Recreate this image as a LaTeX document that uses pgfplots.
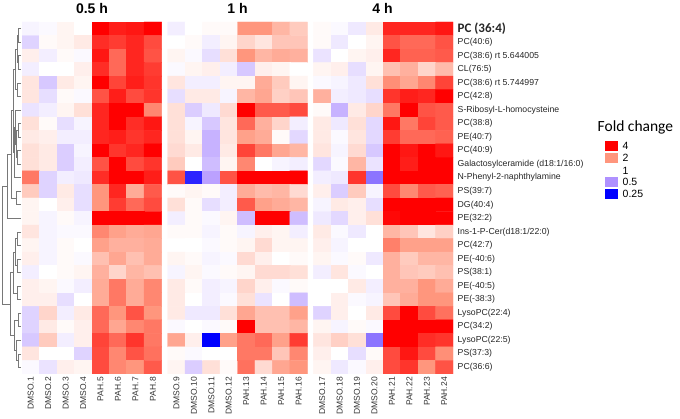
\documentclass[border=0pt]{standalone}
\usepackage{fontspec}
\setmainfont{Liberation Sans}
\newfontfamily\calibri{Carlito}
\usepackage{pgfplots}
\pgfplotsset{compat=1.18}
\definecolor{fcred}{RGB}{255,0,0}
\definecolor{fcsalmon}{RGB}{255,150,125}
\definecolor{fclilac}{RGB}{175,145,255}
\definecolor{fcblue}{RGB}{0,0,255}
\definecolor{dendro}{RGB}{120,120,120}
\begin{document}
\begin{tikzpicture}[x=1pt,y=1pt]
\path[use as bounding box] (0,0) rectangle (680,419);
\begin{axis}[
  at={(22pt,45pt)}, anchor=south west, scale only axis,
  width=431pt, height=352pt,
  xmin=-0.5, xmax=24.2, ymin=-0.5, ymax=25.5, y dir=reverse,
  axis line style={draw=none}, major tick length=0pt, tick style={draw=none},
  colormap={fc}{rgb255=(0,0,255) rgb255=(175,145,255) rgb255=(255,255,255) rgb255=(255,150,125) rgb255=(255,0,0)},
  point meta min=-2, point meta max=2,
  xtick={0,1,2,3,4,5,6,7,8.35,9.35,10.35,11.35,12.35,13.35,14.35,15.35,16.7,17.7,18.7,19.7,20.7,21.7,22.7,23.7},
  xticklabels={DMSO.1,DMSO.2,DMSO.3,DMSO.4,PAH.5,PAH.6,PAH.7,PAH.8,DMSO.9,DMSO.10,DMSO.11,DMSO.12,PAH.13,PAH.14,PAH.15,PAH.16,DMSO.17,DMSO.18,DMSO.19,DMSO.20,PAH.21,PAH.22,PAH.23,PAH.24},
  xticklabel style={rotate=90, anchor=east, inner sep=0pt, font=\fontsize{8.5}{10}\selectfont, text=black!80},
  xticklabel shift=3pt,
  ytick={0,...,25},
  yticklabels={{\calibri\bfseries\fontsize{13}{14}\selectfont PC (36:4)},PC(40:6),PC(38:6) rt 5.644005,CL(76:5),PC(38:6) rt 5.744997,PC(42:8),S-Ribosyl-L-homocysteine,PC(38:8),PE(40:7),PC(40:9),Galactosylceramide (d18:1/16:0),N-Phenyl-2-naphthylamine,PS(39:7),DG(40:4),PE(32:2),Ins-1-P-Cer(d18:1/22:0),PC(42:7),PE(-40:6),PS(38:1),PE(-40:5),PE(-38:3),LysoPC(22:4),PC(34:2),LysoPC(22:5),PS(37:3),PC(36:6)},
  yticklabel pos=right,
  yticklabel style={anchor=west, inner sep=0pt, font=\fontsize{8.7}{10}\selectfont, text=black!85},
  yticklabel shift=4.5pt,
]
% 0.5 h
\addplot[matrix plot*, mesh/cols=8, point meta=explicit] table[row sep=\\, x=x, y=y, meta=c] {
x y c\\
0 0 -0.1\\ 1 0 -0.05\\ 2 0 0.1\\ 3 0 0\\ 4 0 2\\ 5 0 1.8\\ 6 0 1.85\\ 7 0 2\\
0 1 -0.4\\ 1 1 0.05\\ 2 1 0.1\\ 3 1 0.2\\ 4 1 1.7\\ 5 1 1.6\\ 6 1 1.75\\ 7 1 1.5\\
0 2 0.15\\ 1 2 -0.15\\ 2 2 0.05\\ 3 2 -0.05\\ 4 2 1.85\\ 5 2 1.3\\ 6 2 1.75\\ 7 2 1.45\\
0 3 -0.15\\ 1 3 0\\ 2 3 0\\ 3 3 0.15\\ 4 3 1.7\\ 5 3 1.3\\ 6 3 1.75\\ 7 3 1.6\\
0 4 0.25\\ 1 4 -0.5\\ 2 4 0.2\\ 3 4 0.1\\ 4 4 2\\ 5 4 1.55\\ 6 4 1.8\\ 7 4 1.65\\
0 5 0.25\\ 1 5 -0.3\\ 2 5 0.05\\ 3 5 -0.05\\ 4 5 1.45\\ 5 5 1.8\\ 6 5 1.5\\ 7 5 1.65\\
0 6 -0.25\\ 1 6 -0.15\\ 2 6 0.1\\ 3 6 0.3\\ 4 6 1.75\\ 5 6 2\\ 6 6 2\\ 7 6 1.1\\
0 7 0.3\\ 1 7 0.05\\ 2 7 -0.3\\ 3 7 -0.1\\ 4 7 1.75\\ 5 7 2\\ 6 7 1.7\\ 7 7 1.85\\
0 8 0.2\\ 1 8 0.15\\ 2 8 -0.15\\ 3 8 -0.15\\ 4 8 1.75\\ 5 8 1.8\\ 6 8 1.65\\ 7 8 1.75\\
0 9 0.3\\ 1 9 0.2\\ 2 9 -0.45\\ 3 9 -0.1\\ 4 9 2\\ 5 9 1.65\\ 6 9 1.75\\ 7 9 2\\
0 10 0.3\\ 1 10 0.2\\ 2 10 -0.45\\ 3 10 -0.15\\ 4 10 1.45\\ 5 10 2\\ 6 10 1.5\\ 7 10 1.65\\
0 11 1.2\\ 1 11 -0.4\\ 2 11 -0.15\\ 3 11 -0.2\\ 4 11 1.7\\ 5 11 2\\ 6 11 2\\ 7 11 1.8\\
0 12 0.5\\ 1 12 -0.4\\ 2 12 0.2\\ 3 12 -0.3\\ 4 12 1.0\\ 5 12 1.75\\ 6 12 0.8\\ 7 12 1.4\\
0 13 0.1\\ 1 13 0\\ 2 13 0.15\\ 3 13 -0.3\\ 4 13 1.0\\ 5 13 1.6\\ 6 13 1.3\\ 7 13 1.5\\
0 14 0.1\\ 1 14 -0.1\\ 2 14 0.05\\ 3 14 -0.1\\ 4 14 2\\ 5 14 2\\ 6 14 2\\ 7 14 2\\
0 15 0.25\\ 1 15 -0.1\\ 2 15 -0.05\\ 3 15 -0.05\\ 4 15 1.1\\ 5 15 0.9\\ 6 15 0.8\\ 7 15 0.85\\
0 16 0.1\\ 1 16 -0.1\\ 2 16 0.05\\ 3 16 0\\ 4 16 0.9\\ 5 16 0.75\\ 6 16 0.75\\ 7 16 0.8\\
0 17 0.15\\ 1 17 -0.1\\ 2 17 0.05\\ 3 17 -0.05\\ 4 17 0.6\\ 5 17 0.85\\ 6 17 0.6\\ 7 17 0.8\\
0 18 -0.15\\ 1 18 0\\ 2 18 0.05\\ 3 18 0.1\\ 4 18 0.75\\ 5 18 0.4\\ 6 18 0.7\\ 7 18 0.6\\
0 19 0.15\\ 1 19 0.1\\ 2 19 -0.05\\ 3 19 -0.15\\ 4 19 0.8\\ 5 19 1.2\\ 6 19 0.8\\ 7 19 1.1\\
0 20 0.15\\ 1 20 0.15\\ 2 20 -0.3\\ 3 20 0\\ 4 20 0.8\\ 5 20 1.2\\ 6 20 0.8\\ 7 20 1.1\\
0 21 -0.4\\ 1 21 0.4\\ 2 21 -0.15\\ 3 21 0.2\\ 4 21 1.3\\ 5 21 1.0\\ 6 21 1.45\\ 7 21 1.0\\
0 22 -0.4\\ 1 22 0.2\\ 2 22 0.05\\ 3 22 0.15\\ 4 22 1.3\\ 5 22 0.85\\ 6 22 1.1\\ 7 22 1.2\\
0 23 -0.5\\ 1 23 0.5\\ 2 23 -0.15\\ 3 23 0.15\\ 4 23 1.55\\ 5 23 1.3\\ 6 23 1.65\\ 7 23 1.2\\
0 24 0.25\\ 1 24 0\\ 2 24 0\\ 3 24 -0.4\\ 4 24 1.5\\ 5 24 1.1\\ 6 24 1.45\\ 7 24 1.25\\
0 25 -0.05\\ 1 25 -0.25\\ 2 25 0.15\\ 3 25 0.1\\ 4 25 1.5\\ 5 25 1.1\\ 6 25 1.0\\ 7 25 1.4\\
};
% 1 h
\addplot[matrix plot*, mesh/cols=8, point meta=explicit] table[row sep=\\, x expr=\thisrow{x}+8.35, y=y, meta=c] {
x y c\\
0 0 -0.15\\ 1 0 0\\ 2 0 0.05\\ 3 0 0.05\\ 4 0 1.0\\ 5 0 1.0\\ 6 0 0.7\\ 7 0 0.5\\
0 1 0\\ 1 1 0.05\\ 2 1 -0.15\\ 3 1 0.1\\ 4 1 0.4\\ 5 1 0.25\\ 6 1 0.55\\ 7 1 0.55\\
0 2 0.1\\ 1 2 -0.05\\ 2 2 -0.3\\ 3 2 0.3\\ 4 2 1.0\\ 5 2 0.7\\ 6 2 0.8\\ 7 2 0.75\\
0 3 -0.05\\ 1 3 0.1\\ 2 3 0.15\\ 3 3 -0.15\\ 4 3 -0.5\\ 5 3 0.15\\ 6 3 0.1\\ 7 3 0\\
0 4 0.25\\ 1 4 -0.15\\ 2 4 -0.15\\ 3 4 0.1\\ 4 4 0.1\\ 5 4 0.8\\ 6 4 0.5\\ 7 4 0.1\\
0 5 -0.3\\ 1 5 0.2\\ 2 5 0.2\\ 3 5 -0.1\\ 4 5 0.7\\ 5 5 0.85\\ 6 5 0.45\\ 7 5 0.55\\
0 6 0.3\\ 1 6 -0.45\\ 2 6 -0.2\\ 3 6 0.35\\ 4 6 2\\ 5 6 1.4\\ 6 6 1.4\\ 7 6 1.5\\
0 7 0.3\\ 1 7 -0.1\\ 2 7 -0.5\\ 3 7 0.25\\ 4 7 1.3\\ 5 7 0.75\\ 6 7 0.4\\ 7 7 -0.15\\
0 8 0.3\\ 1 8 0.1\\ 2 8 -0.7\\ 3 8 0.25\\ 4 8 0.9\\ 5 8 0.8\\ 6 8 0.05\\ 7 8 -0.35\\
0 9 0.35\\ 1 9 0.2\\ 2 9 -0.7\\ 3 9 0.2\\ 4 9 1.55\\ 5 9 1.2\\ 6 9 0.85\\ 7 9 0.7\\
0 10 0.5\\ 1 10 0\\ 2 10 -0.6\\ 3 10 0.1\\ 4 10 1.1\\ 5 10 0\\ 6 10 -0.1\\ 7 10 -0.15\\
0 11 1.45\\ 1 11 -1.75\\ 2 11 -0.85\\ 3 11 1.45\\ 4 11 2\\ 5 11 2\\ 6 11 2\\ 7 11 2\\
0 12 0.05\\ 1 12 0.1\\ 2 12 0.05\\ 3 12 -0.15\\ 4 12 0.8\\ 5 12 0.65\\ 6 12 0.7\\ 7 12 0.35\\
0 13 0.3\\ 1 13 0.05\\ 2 13 -0.3\\ 3 13 -0.15\\ 4 13 1.4\\ 5 13 0.9\\ 6 13 0.8\\ 7 13 0.7\\
0 14 -0.15\\ 1 14 0.05\\ 2 14 -0.05\\ 3 14 0.1\\ 4 14 -0.6\\ 5 14 2\\ 6 14 2\\ 7 14 -0.6\\
0 15 0.05\\ 1 15 0.05\\ 2 15 -0.1\\ 3 15 0.05\\ 4 15 -0.1\\ 5 15 0.15\\ 6 15 0.1\\ 7 15 -0.15\\
0 16 0\\ 1 16 0\\ 2 16 -0.05\\ 3 16 0.05\\ 4 16 0.1\\ 5 16 0.35\\ 6 16 0.1\\ 7 16 0.1\\
0 17 0.1\\ 1 17 0.05\\ 2 17 -0.1\\ 3 17 -0.05\\ 4 17 0.35\\ 5 17 0.15\\ 6 17 0\\ 7 17 0.05\\
0 18 -0.1\\ 1 18 0.1\\ 2 18 -0.05\\ 3 18 0.05\\ 4 18 0.1\\ 5 18 0.35\\ 6 18 0.35\\ 7 18 0.3\\
0 19 0.2\\ 1 19 0.05\\ 2 19 -0.15\\ 3 19 -0.1\\ 4 19 0.4\\ 5 19 0.15\\ 6 19 -0.05\\ 7 19 0.05\\
0 20 0.2\\ 1 20 0\\ 2 20 -0.15\\ 3 20 -0.05\\ 4 20 0.3\\ 5 20 -0.25\\ 6 20 0\\ 7 20 -0.6\\
0 21 0.2\\ 1 21 -0.2\\ 2 21 -0.2\\ 3 21 0.3\\ 4 21 0.85\\ 5 21 0.6\\ 6 21 0.6\\ 7 21 0.9\\
0 22 -0.05\\ 1 22 0\\ 2 22 -0.05\\ 3 22 0.05\\ 4 22 2\\ 5 22 0.6\\ 6 22 0.6\\ 7 22 0.7\\
0 23 0.85\\ 1 23 0.15\\ 2 23 -2\\ 3 23 0.9\\ 4 23 1.2\\ 5 23 1.3\\ 6 23 0.9\\ 7 23 1.6\\
0 24 0.05\\ 1 24 -0.05\\ 2 24 0\\ 3 24 0\\ 4 24 1.2\\ 5 24 1.2\\ 6 24 0.55\\ 7 24 1.1\\
0 25 0.1\\ 1 25 -0.45\\ 2 25 0.3\\ 3 25 0.05\\ 4 25 1.25\\ 5 25 0.35\\ 6 25 0.85\\ 7 25 1.0\\
};
% 4 h
\addplot[matrix plot*, mesh/cols=8, point meta=explicit] table[row sep=\\, x expr=\thisrow{x}+16.7, y=y, meta=c] {
x y c\\
0 0 0.05\\ 1 0 -0.05\\ 2 0 -0.2\\ 3 0 0.2\\ 4 0 1.75\\ 5 0 1.75\\ 6 0 1.75\\ 7 0 1.85\\
0 1 0.05\\ 1 1 -0.2\\ 2 1 0\\ 3 1 0.1\\ 4 1 1.45\\ 5 1 1.3\\ 6 1 1.3\\ 7 1 1.45\\
0 2 -0.25\\ 1 2 0\\ 2 2 0.1\\ 3 2 0.15\\ 4 2 1.75\\ 5 2 1.35\\ 6 2 1.35\\ 7 2 1.4\\
0 3 0.1\\ 1 3 0.15\\ 2 3 -0.3\\ 3 3 0.1\\ 4 3 0.6\\ 5 3 0.75\\ 6 3 0.4\\ 7 3 0.65\\
0 4 -0.05\\ 1 4 -0.1\\ 2 4 -0.2\\ 3 4 0.3\\ 4 4 1.05\\ 5 4 0.85\\ 6 4 1.1\\ 7 4 1.55\\
0 5 0.75\\ 1 5 -0.15\\ 2 5 -0.2\\ 3 5 -0.3\\ 4 5 1.65\\ 5 5 1.8\\ 6 5 1.75\\ 7 5 2\\
0 6 0.05\\ 1 6 -0.7\\ 2 6 0.2\\ 3 6 0.4\\ 4 6 1.2\\ 5 6 2\\ 6 6 1.45\\ 7 6 1.4\\
0 7 0.2\\ 1 7 -0.2\\ 2 7 0.3\\ 3 7 -0.35\\ 4 7 1.85\\ 5 7 1.2\\ 6 7 1.55\\ 7 7 1.4\\
0 8 0.2\\ 1 8 -0.05\\ 2 8 0.25\\ 3 8 -0.35\\ 4 8 1.6\\ 5 8 1.3\\ 6 8 1.3\\ 7 8 1.35\\
0 9 0.25\\ 1 9 -0.1\\ 2 9 0.35\\ 3 9 -0.5\\ 4 9 2\\ 5 9 1.85\\ 6 9 2\\ 7 9 1.85\\
0 10 -0.35\\ 1 10 -0.05\\ 2 10 0.7\\ 3 10 -0.25\\ 4 10 2\\ 5 10 1.8\\ 6 10 2\\ 7 10 2\\
0 11 -0.15\\ 1 11 -0.2\\ 2 11 1.65\\ 3 11 -1.2\\ 4 11 2\\ 5 11 2\\ 6 11 2\\ 7 11 2\\
0 12 0.15\\ 1 12 -0.45\\ 2 12 0.5\\ 3 12 -0.1\\ 4 12 1.5\\ 5 12 1.1\\ 6 12 1.4\\ 7 12 1.35\\
0 13 -0.1\\ 1 13 0.2\\ 2 13 0.15\\ 3 13 -0.3\\ 4 13 2\\ 5 13 2\\ 6 13 2\\ 7 13 2\\
0 14 -0.2\\ 1 14 -0.35\\ 2 14 0.15\\ 3 14 0.3\\ 4 14 1.95\\ 5 14 2\\ 6 14 2\\ 7 14 2\\
0 15 0.2\\ 1 15 -0.05\\ 2 15 -0.2\\ 3 15 0\\ 4 15 0.7\\ 5 15 0.55\\ 6 15 0.25\\ 7 15 0.45\\
0 16 0.15\\ 1 16 -0.1\\ 2 16 0\\ 3 16 0\\ 4 16 1.15\\ 5 16 0.9\\ 6 16 0.9\\ 7 16 0.9\\
0 17 0.1\\ 1 17 -0.05\\ 2 17 0.05\\ 3 17 -0.2\\ 4 17 0.75\\ 5 17 0.5\\ 6 17 0.7\\ 7 17 0.7\\
0 18 -0.15\\ 1 18 0.25\\ 2 18 -0.05\\ 3 18 0\\ 4 18 0.75\\ 5 18 0.55\\ 6 18 0.5\\ 7 18 0.6\\
0 19 0\\ 1 19 0\\ 2 19 0.2\\ 3 19 -0.15\\ 4 19 0.75\\ 5 19 0.75\\ 6 19 1.0\\ 7 19 0.8\\
0 20 0\\ 1 20 0.15\\ 2 20 -0.05\\ 3 20 -0.1\\ 4 20 0.55\\ 5 20 0.8\\ 6 20 1.0\\ 7 20 1.0\\
0 21 -0.4\\ 1 21 0.15\\ 2 21 0\\ 3 21 0.2\\ 4 21 1.5\\ 5 21 2\\ 6 21 1.5\\ 7 21 1.25\\
0 22 0.1\\ 1 22 -0.1\\ 2 22 0.05\\ 3 22 -0.05\\ 4 22 2\\ 5 22 2\\ 6 22 2\\ 7 22 2\\
0 23 0.25\\ 1 23 0.45\\ 2 23 0.3\\ 3 23 -1.2\\ 4 23 2\\ 5 23 2\\ 6 23 1.7\\ 7 23 1.65\\
0 24 0.15\\ 1 24 0\\ 2 24 -0.3\\ 3 24 0.05\\ 4 24 1.5\\ 5 24 1.85\\ 6 24 1.5\\ 7 24 1.05\\
0 25 0.1\\ 1 25 -0.2\\ 2 25 -0.05\\ 3 25 0.15\\ 4 25 1.5\\ 5 25 1.65\\ 6 25 1.0\\ 7 25 1.45\\
};
\end{axis}
\begin{scope}[shift={(0,419)}, yscale=-1]
% panel titles
\node[anchor=base, font=\bfseries\fontsize{14}{16}\selectfont] at (92,13.5) {0.5 h};
\node[anchor=base, font=\bfseries\fontsize{14}{16}\selectfont] at (237.5,13.5) {1 h};
\node[anchor=base, font=\bfseries\fontsize{14}{16}\selectfont] at (382.5,13.5) {4 h};
% dendrogram
\begin{scope}[draw=dendro, line width=0.6pt]
\draw (21,28.8)--(18.5,28.8)--(18.5,42.3)--(21,42.3);
\draw (21,55.8)--(18.5,55.8)--(18.5,69.4)--(21,69.4);
\draw (18.5,35.5)--(17,35.5)--(17,62.6)--(18.5,62.6);
\draw (21,82.9)--(17.5,82.9)--(17.5,96.5)--(21,96.5);
\draw (17,49)--(15.5,49)--(15.5,89.7)--(17.5,89.7);
\draw (21,123.6)--(18,123.6)--(18,137.1)--(21,137.1);
\draw (21,150.7)--(17.5,150.7)--(17.5,164.2)--(21,164.2);
\draw (18,130.3)--(16,130.3)--(16,157.4)--(17.5,157.4);
\draw (21,110)--(15,110)--(15,143.9)--(16,143.9);
\draw (15,127)--(14,127)--(14,177.7)--(21,177.7);
\draw (15.5,69.3)--(13,69.3)--(13,152.3)--(14,152.3);
\draw (21,191.3)--(16,191.3)--(16,204.8)--(21,204.8);
\draw (13,110.8)--(11,110.8)--(11,198)--(16,198);
\draw (11,154.4)--(7,154.4)--(7,218.4)--(21,218.4);
\draw (21,231.9)--(17.5,231.9)--(17.5,245.5)--(21,245.5);
\draw (21,259)--(17,259)--(17,272.6)--(21,272.6);
\draw (17.5,238.7)--(15.5,238.7)--(15.5,265.8)--(17,265.8);
\draw (21,286.1)--(17.5,286.1)--(17.5,299.7)--(21,299.7);
\draw (15.5,252.2)--(13,252.2)--(13,292.9)--(17.5,292.9);
\draw (21,313.2)--(18,313.2)--(18,326.8)--(21,326.8);
\draw (21,353.9)--(18,353.9)--(18,367.4)--(21,367.4);
\draw (21,340.3)--(16.5,340.3)--(16.5,360.6)--(18,360.6);
\draw (18,320)--(14.5,320)--(14.5,350.5)--(16.5,350.5);
\draw (13,272.5)--(10,272.5)--(10,335.2)--(14.5,335.2);
\draw (7,186.4)--(2.5,186.4)--(2.5,303.9)--(10,303.9);
\end{scope}
% legend
\node[anchor=base west, inner sep=0pt, font=\calibri\fontsize{15.5}{17}\selectfont] at (597.5,132) {Fold change};
\fill[fcred] (605,141.5) rectangle (618,151);
\fill[fcsalmon] (605,153.5) rectangle (618,163);
\fill[fclilac] (605,177.5) rectangle (618,187);
\fill[fcblue] (605,189.5) rectangle (618,199);
\node[anchor=west, inner sep=0pt, font=\fontsize{10.5}{12}\selectfont] at (622.5,146.3) {4};
\node[anchor=west, inner sep=0pt, font=\fontsize{10.5}{12}\selectfont] at (622.5,158.3) {2};
\node[anchor=west, inner sep=0pt, font=\fontsize{10.5}{12}\selectfont] at (622.5,170.5) {1};
\node[anchor=west, inner sep=0pt, font=\fontsize{10.5}{12}\selectfont] at (622.5,182.3) {0.5};
\node[anchor=west, inner sep=0pt, font=\fontsize{10.5}{12}\selectfont] at (622.5,194.3) {0.25};
\end{scope}
\end{tikzpicture}
\end{document}
